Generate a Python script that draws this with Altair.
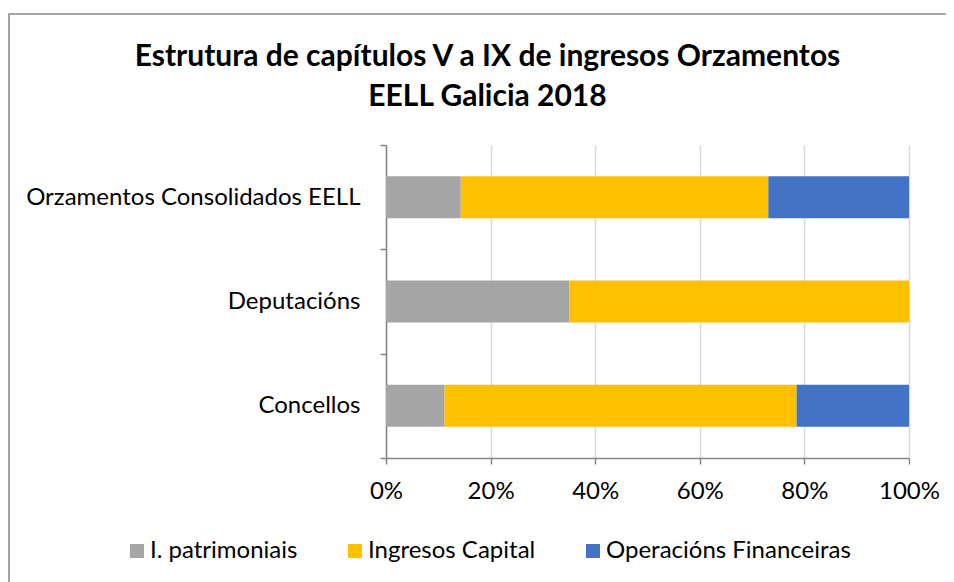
import altair as alt
import pandas as pd

categories = ["Orzamentos Consolidados  EELL", "Deputacións", "Concellos"]
series = ["I. patrimoniais", "Ingresos Capital", "Operacións Financeiras"]
patrimoniais = [14.3, 35.1, 11.2]
capital = [58.8, 64.9, 67.3]
financeiras = [26.9, 0.0, 21.5]
colors = ["#A5A5A5", "#FFC000", "#4472C4"]
x_ticks = [0, 0.2, 0.4, 0.6, 0.8, 1.0]

rows = []
for i, c in enumerate(categories):
    for j, (s, vals) in enumerate(zip(series, [patrimoniais, capital, financeiras])):
        rows.append({"category": c, "series": s, "value": vals[i], "order": j})
df = pd.DataFrame(rows)

FONT = "Lato"

bars = alt.Chart(df).mark_bar(size=42).encode(
    y=alt.Y("category:N", sort=categories, title=None,
            scale=alt.Scale(paddingInner=0, paddingOuter=0),
            axis=alt.Axis(tickBand="extent", domainColor="#868686", domainWidth=1.5,
                          tickColor="#868686", tickWidth=1.5, tickSize=6,
                          labelFontSize=24, labelColor="#000000", labelFont=FONT,
                          labelPadding=20, labelLimit=500, grid=False)),
    x=alt.X("value:Q", stack="normalize", title=None,
            scale=alt.Scale(domain=[0, 1]),
            axis=alt.Axis(values=x_ticks, format=".0%", domainColor="#868686", domainWidth=1.5,
                          tickColor="#868686", tickWidth=1.5, tickSize=6,
                          gridColor="#D9D9D9", gridWidth=1.5, labelFlush=False,
                          labelFontSize=24, labelColor="#000000", labelFont=FONT,
                          labelPadding=15)),
    color=alt.Color("series:N", sort=series,
                    scale=alt.Scale(domain=series, range=colors),
                    legend=alt.Legend(title=None, orient="none", legendX=-261, legendY=394,
                                      direction="horizontal", columns=3,
                                      symbolType="square", symbolSize=196, symbolStrokeWidth=0,
                                      labelFontSize=24, labelFont=FONT, labelColor="#000000",
                                      labelLimit=500, columnPadding=45, labelOffset=1)),
    order=alt.Order("order:Q"),
)

frame = alt.Chart(alt.Data(values=[{}])).mark_rect(
    fill=None, stroke="#898989", strokeWidth=1.5
).encode(
    x=alt.value(-377), x2=alt.value(600), y=alt.value(-131), y2=alt.value(460)
)

chart = alt.layer(frame, bars).properties(
    width=523, height=313,
    padding={"left": 378, "top": 137, "right": 37, "bottom": 124},
    autosize=alt.AutoSizeParams(type="none"),
    title=alt.TitleParams(
        ["Estrutura de capítulos V a IX de ingresos Orzamentos", "EELL Galicia 2018"],
        fontSize=30, font=FONT, fontWeight="bold", color="#000000",
        anchor="middle", dx=-160, offset=-99, lineHeight=40,
    ),
).configure_view(stroke=None)

chart.save("out.html", embed_options={"renderer": "svg", "actions": False})
